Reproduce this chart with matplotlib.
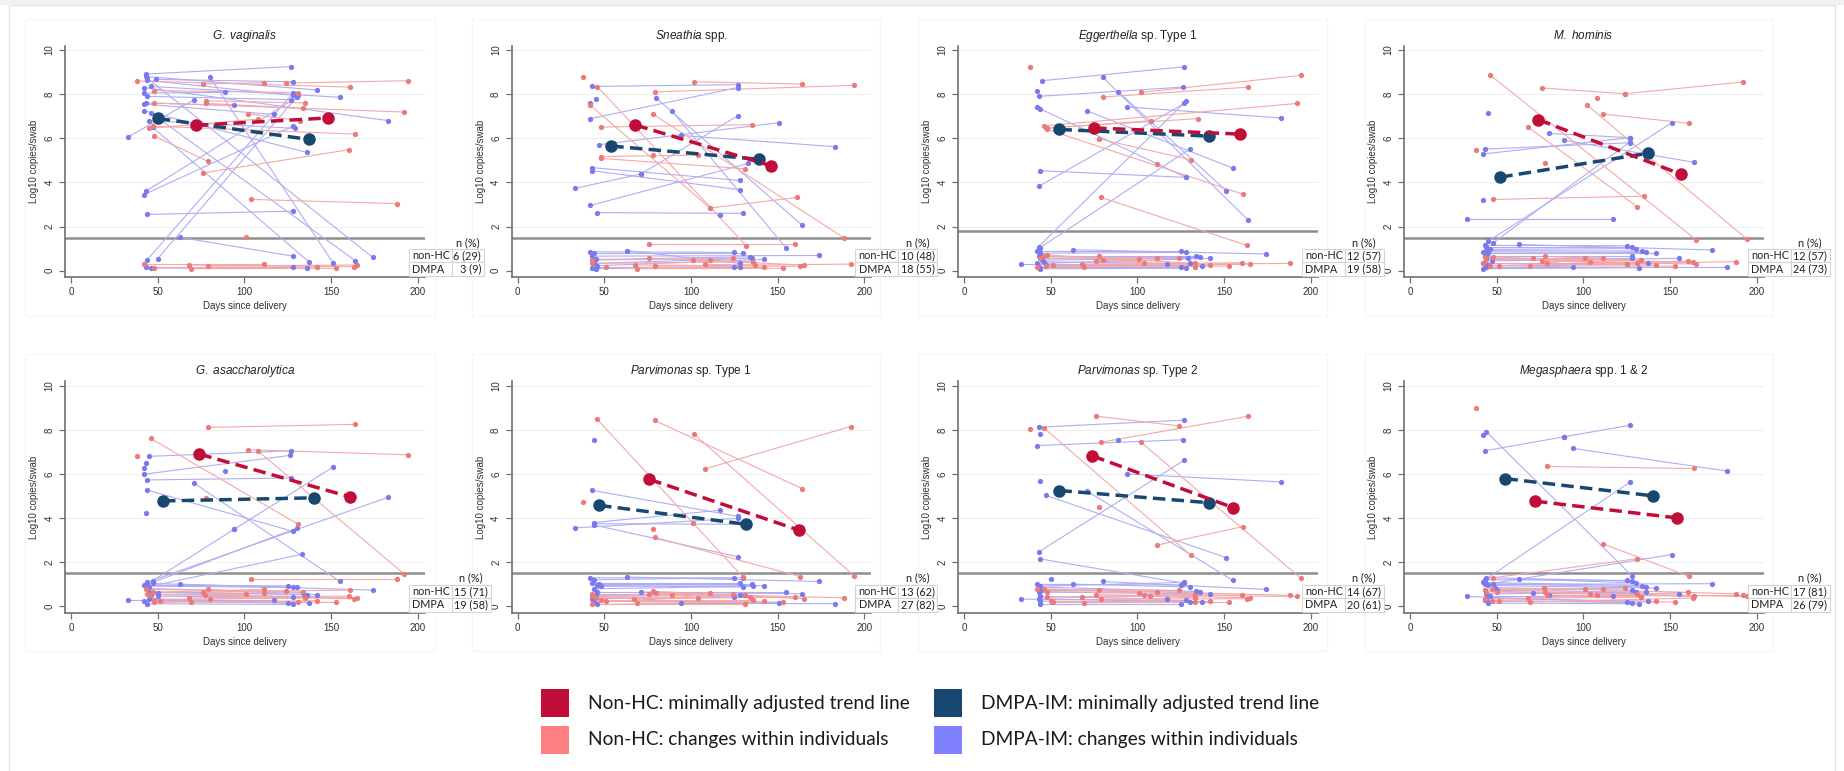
import matplotlib.pyplot as plt
from matplotlib.patches import Rectangle

W, H = 1844, 771

# ---- panel labels / summary numbers ----
titles_it = ["G. vaginalis", "Sneathia", "Eggerthella", "M. hominis",
             "G. asaccharolytica", "Parvimonas", "Parvimonas", "Megasphaera"]
titles_rest = ["", " spp.", " sp. Type 1", "", "", " sp. Type 1", " sp. Type 2", " spp. 1 & 2"]
thresholds = [1.5, 1.5, 1.8, 1.5, 1.5, 1.5, 1.5, 1.5]
n_nonhc = ["6 (29)", "10 (48)", "12 (57)", "12 (57)", "15 (71)", "13 (62)", "14 (67)", "17 (81)"]
n_dmpa = ["3 (9)", "18 (55)", "19 (58)", "24 (73)", "19 (58)", "27 (82)", "20 (61)", "26 (79)"]

# minimally adjusted trend lines: (day1, log1, day2, log2)
trend_nonhc = [(72, 6.59, 148, 6.92), (68, 6.60, 146, 4.76), (75, 6.47, 159, 6.19),
               (74, 6.84, 156, 4.38), (74, 6.90, 161, 4.96), (76, 5.76, 162, 3.46),
               (74, 6.82, 155, 4.48), (72, 4.77, 154, 4.01)]
trend_dmpa = [(50, 6.90, 137, 5.95), (54, 5.65, 139, 5.05), (55, 6.40, 141, 6.10),
              (52, 4.24, 137, 5.32), (53, 4.78, 140, 4.92), (47, 4.58, 132, 3.72),
              (55, 5.25, 141, 4.70), (55, 5.79, 140, 5.01)]

# ---- individual women: (day1, log1, day2, log2) or single (day, log) ----
gvag_nonhc = [(38, 8.60, 161, 8.32), (76, 8.46, 111, 8.52), (124, 8.50, 194, 8.61),
              (48, 8.16, 131, 8.07), (78, 7.70, 135, 7.60), (78, 7.58, 134, 7.36),
              (48, 7.60, 192, 7.19), (102, 7.11, 132, 6.80), (45, 6.45, 108, 6.87),
              (47, 6.55, 164, 6.19), (48, 6.10, 79, 4.95), (76, 4.43, 160, 5.48),
              (104, 3.23, 188, 3.04), (101, 1.51),
              (42, 0.30, 111, 0.30), (48, 0.14, 142, 0.17), (68, 0.26, 163, 0.18),
              (69, 0.09, 153, 0.11), (79, 0.21, 165, 0.26)]
gvag_dmpa = [(43, 8.91, 127, 9.25), (49, 8.67, 128, 8.56), (43, 8.80, 142, 8.19),
             (44, 8.62, 128, 7.95), (46, 8.35, 155, 7.86), (42, 8.30, 183, 6.80),
             (80, 8.78, 151, 0.36), (42, 8.05, 89, 8.08), (44, 7.90, 127, 7.75),
             (43, 7.60, 94, 7.49), (42, 7.55, 117, 7.08), (42, 7.25, 136, 5.36),
             (45, 6.80, 129, 6.45), (47, 6.50, 137, 0.41), (46, 7.15, 164, 0.45),
             (44, 8.72, 174, 0.60), (43, 3.60, 130, 7.85), (42, 3.45, 128, 6.55),
             (44, 2.55, 128, 2.70), (44, 0.50, 128, 8.05), (50, 0.55, 131, 7.95),
             (63, 1.51, 128, 0.66), (33, 6.07, 71, 7.75),
             (43, 0.18, 128, 0.18), (46, 0.12, 136, 0.11)]

snea_nonhc = [(38, 8.76), (102, 8.56, 164, 8.46), (79, 8.10, 194, 8.40),
              (46, 8.34, 132, 1.12), (78, 7.10, 188, 1.50), (42, 7.49, 111, 2.84),
              (111, 2.84, 161, 3.32), (48, 6.51, 135, 6.62), (48, 5.17, 104, 5.24),
              (48, 5.09, 131, 4.62), (78, 5.24), (76, 1.19, 160, 1.19),
              (43, 0.48, 124, 0.56), (43, 0.33, 136, 0.41), (51, 0.18, 142, 0.18),
              (68, 0.26, 163, 0.20), (69, 0.09, 153, 0.11), (76, 0.56, 111, 0.48),
              (79, 0.21, 192, 0.30), (101, 0.48, 165, 0.26), (108, 0.29, 137, 0.25)]
snea_dmpa = [(43, 8.35, 127, 8.43), (42, 6.89, 127, 8.30), (80, 7.82, 164, 2.07),
             (89, 7.24, 155, 1.01), (45, 7.80), (42, 7.61), (47, 5.71, 151, 6.71),
             (94, 6.13, 183, 5.62), (43, 4.67, 128, 4.09), (43, 4.53, 128, 3.67),
             (42, 2.96, 133, 4.86), (46, 2.63, 130, 2.60), (33, 3.73, 71, 4.38),
             (71, 4.38, 127, 7.02), (117, 2.54),
             (42, 0.86, 125, 0.83), (44, 0.79, 130, 0.79), (43, 0.66, 174, 0.69),
             (45, 0.51, 134, 0.63), (44, 0.33, 135, 0.56), (46, 0.23, 142, 0.51),
             (63, 0.91, 128, 0.33), (43, 0.14, 128, 0.18), (45, 0.09, 125, 0.18)]

egg1_nonhc = [(38, 9.21), (80, 7.87, 164, 8.32), (102, 8.08, 194, 8.85),
              (46, 6.56, 192, 7.58), (47, 6.47, 135, 6.89), (48, 6.45, 108, 6.80),
              (78, 5.97, 131, 5.02), (48, 6.40, 161, 3.46), (79, 3.32, 163, 1.15),
              (111, 4.83),
              (44, 0.56, 124, 0.59), (46, 0.66, 111, 0.56), (48, 0.71, 133, 0.33),
              (47, 0.23, 142, 0.26), (42, 0.18, 153, 0.21), (51, 0.26, 188, 0.33),
              (68, 0.30, 160, 0.36), (69, 0.18, 165, 0.30), (76, 0.45, 101, 0.51),
              (78, 0.66, 104, 0.36), (80, 0.50, 133, 0.18)]
egg1_dmpa = [(45, 8.61, 127, 9.24), (43, 7.90, 126, 8.32), (80, 8.76, 164, 2.28),
             (89, 8.11, 151, 3.63), (94, 7.42, 183, 6.92), (71, 7.24, 155, 4.65),
             (42, 8.16), (42, 7.42), (44, 7.33, 128, 4.23), (44, 4.53, 128, 4.23),
             (43, 3.82, 127, 7.58), (43, 1.09, 128, 7.69), (44, 1.05, 130, 5.51),
             (42, 0.91, 125, 0.91), (44, 0.79, 128, 0.83), (63, 0.95, 174, 0.76),
             (43, 0.66, 134, 0.66), (44, 0.56, 136, 0.60), (45, 0.48, 129, 0.56),
             (42, 0.33, 142, 0.56), (33, 0.30, 117, 0.30), (43, 0.18, 125, 0.18),
             (44, 0.09, 128, 0.11), (47, 0.25, 137, 0.21), (46, 0.40, 130, 0.33)]

mhom_nonhc = [(46, 8.88, 165, 1.40), (76, 8.28, 124, 8.02), (124, 8.02, 192, 8.55),
              (108, 7.81), (102, 7.51, 194, 1.45), (111, 7.10, 161, 6.68),
              (68, 6.51, 131, 2.90), (48, 3.23, 135, 3.38), (38, 5.47), (78, 4.89),
              (43, 0.60, 125, 0.30), (44, 0.50, 111, 0.59), (48, 0.63, 131, 0.36),
              (42, 0.33, 142, 0.26), (46, 0.23, 153, 0.21), (51, 0.23, 188, 0.41),
              (69, 0.21, 160, 0.44), (71, 0.56, 163, 0.38), (76, 0.44, 165, 0.30),
              (78, 0.65, 133, 0.48), (79, 0.33, 101, 0.56), (104, 0.41, 125, 0.30)]
mhom_dmpa = [(80, 6.22, 127, 6.03), (43, 5.51, 127, 5.80), (42, 5.29, 127, 6.03),
             (89, 5.91, 164, 4.91), (33, 2.34, 117, 2.34), (45, 1.33, 151, 6.71),
             (48, 1.27, 127, 5.85), (42, 3.19), (45, 7.13),
             (43, 1.15, 125, 1.13), (44, 1.06, 128, 1.06), (63, 1.19, 174, 0.94),
             (46, 0.97, 130, 1.00), (44, 0.91, 134, 0.89), (42, 0.85, 136, 0.83),
             (45, 0.79, 142, 0.79), (43, 0.68, 128, 0.68), (44, 0.59, 128, 0.59),
             (47, 0.45, 155, 0.56), (42, 0.33, 137, 0.33), (43, 0.23, 125, 0.30),
             (44, 0.15, 183, 0.15), (42, 0.09, 132, 0.14), (45, 0.25, 94, 0.17)]

gasa_nonhc = [(79, 8.11, 164, 8.25), (102, 7.10, 194, 6.87), (108, 7.03, 192, 1.47),
              (46, 7.61, 131, 3.72), (104, 1.24, 188, 1.24), (78, 4.92), (38, 6.82),
              (43, 0.77, 124, 0.69), (44, 0.58, 101, 0.58), (45, 0.52, 134, 0.66),
              (47, 0.64, 111, 0.77), (48, 0.31, 135, 0.40), (48, 0.18, 142, 0.26),
              (51, 0.25, 153, 0.18), (68, 0.38, 160, 0.47), (69, 0.20, 131, 0.21),
              (76, 0.66, 161, 0.74), (79, 0.78, 111, 0.63), (77, 0.52, 163, 0.34),
              (80, 0.34, 165, 0.40)]
gasa_dmpa = [(45, 6.80, 127, 7.05), (42, 5.99, 126, 6.84), (43, 6.52), (42, 6.25),
             (89, 6.13), (71, 5.58, 155, 1.13), (44, 5.27, 128, 3.40), (43, 4.24),
             (44, 5.73, 127, 5.82), (94, 3.49, 151, 6.31), (44, 1.00, 130, 3.54),
             (45, 0.90, 133, 2.36), (44, 1.10, 183, 4.95), (47, 1.16, 94, 3.49),
             (42, 0.96, 125, 0.93), (43, 0.92, 128, 0.86), (47, 1.04, 130, 0.86),
             (63, 1.00, 174, 0.74), (44, 0.81, 134, 0.63), (50, 0.63, 136, 0.54),
             (45, 0.66, 142, 0.54), (50, 0.46, 128, 0.43), (33, 0.28, 117, 0.28),
             (42, 0.25, 125, 0.15), (44, 0.12, 128, 0.09), (45, 0.35, 137, 0.17),
             (46, 0.54, 135, 0.45)]

parv1_nonhc = [(46, 8.47, 130, 1.33), (79, 8.43, 164, 5.34), (102, 7.79, 194, 1.39),
               (108, 6.23, 192, 8.15), (79, 3.13, 163, 1.35), (78, 3.49), (101, 3.77),
               (38, 4.74),
               (43, 0.57, 124, 0.57), (43, 0.45, 131, 0.50), (45, 0.39, 134, 0.42),
               (48, 0.27, 136, 0.27), (43, 0.12, 131, 0.12), (51, 0.24, 142, 0.24),
               (67, 0.35, 160, 0.42), (69, 0.15, 153, 0.20), (76, 0.56, 111, 0.60),
               (78, 0.68, 165, 0.35), (80, 0.60, 188, 0.39), (89, 0.54, 104, 0.39)]
parv1_dmpa = [(43, 5.26, 127, 4.08), (44, 3.80, 117, 4.36), (33, 3.56, 127, 3.99),
              (44, 3.69, 127, 2.25), (44, 7.55), (44, 3.75, 133, 3.72),
              (42, 1.30, 125, 1.29), (44, 1.21, 130, 1.30), (63, 1.33, 174, 1.13),
              (43, 1.06, 128, 1.06), (47, 1.03, 135, 1.03), (48, 0.91, 142, 0.94),
              (46, 0.95, 130, 0.88), (44, 0.80, 136, 0.91), (46, 0.65, 155, 0.65),
              (71, 0.65, 164, 0.57), (43, 0.35, 125, 0.42), (44, 0.20, 128, 0.50),
              (46, 0.09, 151, 0.17), (45, 0.50, 131, 0.53), (94, 0.15, 183, 0.12)]

parv2_nonhc = [(76, 8.62, 124, 8.18), (46, 8.09, 131, 2.31), (79, 7.44, 164, 8.62),
               (102, 7.44, 194, 1.29), (111, 2.77, 161, 3.62), (38, 8.06), (78, 4.49),
               (42, 0.77, 124, 0.73), (46, 0.80, 111, 0.65), (48, 0.67, 101, 0.62),
               (48, 0.42, 133, 0.54), (50, 0.24, 142, 0.24), (51, 0.20, 153, 0.20),
               (68, 0.42, 160, 0.53), (69, 0.17, 133, 0.20), (76, 0.54, 165, 0.39),
               (78, 0.73, 188, 0.50), (79, 0.33, 163, 0.35), (104, 0.53, 192, 0.45),
               (107, 0.45, 133, 0.39)]
parv2_dmpa = [(43, 8.12, 127, 8.44), (42, 7.29, 126, 7.55), (89, 7.53), (44, 7.79),
              (94, 6.00, 183, 5.64), (47, 5.04, 151, 2.21), (71, 5.22, 155, 1.18),
              (43, 2.47, 127, 6.63), (44, 2.15, 127, 1.05), (44, 5.69),
              (42, 1.00, 125, 0.97), (44, 0.92, 127, 1.09), (63, 1.01, 130, 0.88),
              (80, 1.13, 174, 0.77), (44, 0.88, 134, 0.68), (45, 0.73, 136, 0.64),
              (43, 0.65, 142, 0.57), (44, 0.45, 117, 0.33), (33, 0.33, 128, 0.27),
              (43, 0.35, 130, 0.20), (44, 0.24, 137, 0.18), (44, 0.12, 125, 0.12),
              (50, 1.24)]

mega_nonhc = [(79, 6.34, 164, 6.25), (111, 2.84, 161, 1.36), (48, 1.30, 131, 2.16),
              (38, 9.00),
              (43, 0.76, 124, 0.83), (44, 0.65, 101, 0.77), (47, 0.80, 111, 0.77),
              (50, 0.65, 131, 0.57), (43, 0.35, 133, 0.42), (47, 0.24, 142, 0.24),
              (51, 0.24, 153, 0.20), (68, 0.39, 160, 0.64), (69, 0.20, 163, 0.38),
              (77, 0.83, 188, 0.57), (78, 0.65, 164, 0.45), (79, 0.50, 192, 0.50),
              (104, 0.57, 194, 0.45), (108, 0.50, 133, 0.42)]
mega_dmpa = [(43, 7.05, 89, 7.69), (89, 7.69, 127, 8.21), (94, 7.16, 183, 6.13),
             (44, 7.91, 128, 1.38), (43, 1.20, 127, 5.64), (44, 1.00, 151, 2.35),
             (42, 7.75),
             (43, 1.21, 125, 1.18), (44, 1.30, 128, 1.15), (63, 1.24, 130, 1.07),
             (42, 1.09, 134, 0.94), (43, 1.03, 136, 0.88), (45, 0.95, 142, 0.83),
             (48, 1.00, 174, 1.03), (49, 0.85, 128, 0.73), (50, 0.73, 130, 0.65),
             (44, 0.57, 136, 0.65), (71, 0.59, 155, 0.57), (80, 0.51, 164, 0.48),
             (46, 0.45, 117, 0.45), (33, 0.45, 125, 0.20), (43, 0.27, 128, 0.17),
             (45, 0.15, 132, 0.12), (44, 0.35, 137, 0.24)]

panels_nonhc = [gvag_nonhc, snea_nonhc, egg1_nonhc, mhom_nonhc,
                gasa_nonhc, parv1_nonhc, parv2_nonhc, mega_nonhc]
panels_dmpa = [gvag_dmpa, snea_dmpa, egg1_dmpa, mhom_dmpa,
               gasa_dmpa, parv1_dmpa, parv2_dmpa, mega_dmpa]

legend_labels = ["Non-HC: minimally adjusted trend line", "DMPA-IM: minimally adjusted trend line",
                 "Non-HC: changes within individuals", "DMPA-IM: changes within individuals"]

RED_DARK = "#C00E38"
NAVY = "#184870"
RED_PT = "#EC7A7A"
RED_LN = "#F4A8A8"
BLUE_PT = "#7A7AEE"
BLUE_LN = "#AEAEF4"
LEG_COLORS = [RED_DARK, NAVY, "#FF8080", "#8080FF"]
CAL = ["Lato", "DejaVu Sans"]

plt.rcParams["font.family"] = ["Liberation Sans", "DejaVu Sans"]
plt.rcParams["mathtext.fontset"] = "custom"
plt.rcParams["mathtext.it"] = "Liberation Sans:italic"
plt.rcParams["mathtext.rm"] = "Liberation Sans"

fig = plt.figure(figsize=(W / 100, H / 100), dpi=100)


def fx(px):
    return px / W


def fy(py):
    return 1 - py / H


def fig_rect(l, t, r, b, **kw):
    fig.patches.append(Rectangle((fx(l), fy(b)), fx(r - l), (b - t) / H,
                                 transform=fig.transFigure, figure=fig, **kw))


# page frame
fig_rect(0, 0, W, 5, facecolor="#F1F1F1", edgecolor="none")
fig_rect(9, 5, 1835, H + 5, facecolor="none", edgecolor="#E4E4E4", lw=1)

# faint graph-region boxes
frame_x = [(25, 435), (472, 880), (918, 1327), (1365, 1773)]
frame_y = [(19, 316), (354, 651)]
for (t, b) in frame_y:
    for (l, r) in frame_x:
        fig_rect(l, t, r, b, facecolor="none", edgecolor="#F6F6F6", lw=1)

ax_left = [65, 511.5, 958, 1404]
ax_top = [45.6, 381.3]
ax_w, ax_h = 359.5, 231.3


def draw_people(ax, rows, pt, ln):
    for r in rows:
        if len(r) == 4:
            ax.plot([r[0], r[2]], [r[1], r[3]], color=ln, lw=0.8, zorder=2,
                    solid_capstyle="round")
            ax.plot([r[0], r[2]], [r[1], r[3]], "o", color=pt, ms=3.8, mec="none", zorder=3)
        else:
            ax.plot(r[0], r[1], "o", color=pt, ms=3.8, mec="none", zorder=3)


for i in range(8):
    row, col = divmod(i, 4)
    L, T = ax_left[col], ax_top[row]
    ax = fig.add_axes([fx(L), fy(T + ax_h), fx(ax_w), ax_h / H])
    ax.set_xlim(-3.5, 203.8)
    ax.set_ylim(-0.28, 10.2)

    for g in [2, 4, 6, 8, 10]:
        ax.axhline(g, color="#EEF0F0", lw=0.8, zorder=0)
    ax.axhline(thresholds[i], color="#8E8E8E", lw=1.8, zorder=1)

    draw_people(ax, panels_dmpa[i], BLUE_PT, BLUE_LN)
    draw_people(ax, panels_nonhc[i], RED_PT, RED_LN)

    for tr, c in [(trend_dmpa[i], NAVY), (trend_nonhc[i], RED_DARK)]:
        ax.plot([tr[0], tr[2]], [tr[1], tr[3]], color=c, lw=2.5, ls=(0, (3.6, 1.8)),
                marker="o", ms=8, mec=c, zorder=6)

    for s in ["top", "right"]:
        ax.spines[s].set_visible(False)
    for s in ["left", "bottom"]:
        ax.spines[s].set_color("#707070")
        ax.spines[s].set_linewidth(1.2)
    ax.set_xticks([0, 50, 100, 150, 200])
    ax.set_yticks([0, 2, 4, 6, 8, 10])
    ax.tick_params(colors="#707070", labelcolor="#303030", labelsize=7, length=4, width=0.9)
    for lab in ax.get_yticklabels():
        lab.set_rotation(90)
        lab.set_va("center")
    ax.set_xlabel("Days since delivery", fontsize=7, color="#303030", labelpad=3)
    ax.set_ylabel("Log10 copies/swab", fontsize=7, color="#303030", labelpad=4)
    title = r"$\it{" + titles_it[i].replace(" ", r"\ ") + "}$" + titles_rest[i]
    ax.set_title(title, fontsize=8.5, color="#202020", pad=5)

    # n (%) box at the lower right
    R, B = L + ax_w, T + ax_h
    c1 = 43
    c2 = 32 if len(n_nonhc[i]) < 7 else 39
    tl = R - 16
    rh = 13.5
    tb = B - 1
    cells = [("non-HC", n_nonhc[i]), ("DMPA", n_dmpa[i])]
    for k, (lab, val) in enumerate(cells):
        top = tb - (2 - k) * rh
        fig_rect(tl, top, tl + c1, top + rh, facecolor="white", edgecolor="#D4D4D4", lw=0.8,
                 zorder=5)
        fig_rect(tl + c1, top, tl + c1 + c2, top + rh, facecolor="white", edgecolor="#D4D4D4",
                 lw=0.8, zorder=5)
        fig.text(fx(tl + 3.5), fy(top + rh / 2), lab, fontsize=7.8, family=CAL,
                 color="#202020", ha="left", va="center", zorder=6)
        fig.text(fx(tl + c1 + c2 - 2.5), fy(top + rh / 2), val, fontsize=7.8,
                 family=CAL, color="#202020", ha="right", va="center", zorder=6)
    fig.text(fx(tl + c1 + c2 / 2), fy(tb - 2 * rh - 6.5), "n (%)", fontsize=7.8,
             family=CAL, color="#202020", ha="center", va="center", zorder=6)

# legend
sq_x = [541, 934]
sq_y = [689, 726]
for k, lab in enumerate(legend_labels):
    r, c = divmod(k, 2)
    fig_rect(sq_x[c], sq_y[r], sq_x[c] + 28, sq_y[r] + 28, facecolor=LEG_COLORS[k],
             edgecolor="none")
    fig.text(fx(sq_x[c] + 47), fy(sq_y[r] + 14), lab, fontsize=13.8, family=CAL,
             color="#1A1A1A", ha="left", va="center")

fig.savefig("out.png", dpi=100)
